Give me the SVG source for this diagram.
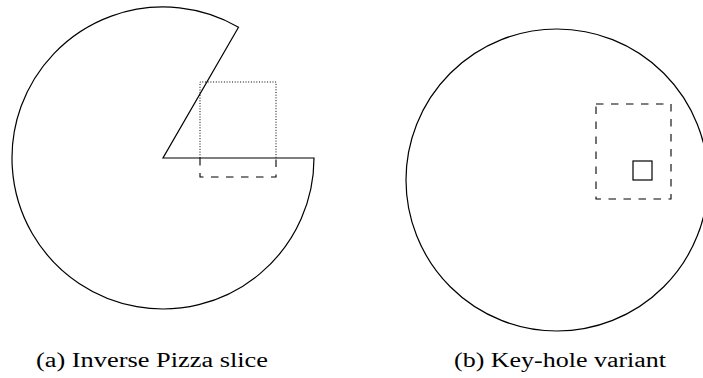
<svg xmlns="http://www.w3.org/2000/svg" width="703" height="378" viewBox="0 0 703 378">
<style>
.solid{fill:none;stroke:#000;stroke-width:1.2}
.dashed{fill:none;stroke:#000;stroke-width:1.1;stroke-dasharray:7.5 7.5}
.dotted{fill:none;stroke:#000;stroke-width:1;stroke-dasharray:1 1.7}
.cap{font-family:"Liberation Serif","DejaVu Serif",serif;font-size:20.5px;fill:#000;text-anchor:middle}
</style>
<rect width="703" height="378" fill="#fff"/>
<g id="pizza">
<path class="solid" d="M163 158 L314 158 A151 151 0 1 1 238.5 27.2 Z"/>
<path class="dotted" d="M200 158 V82 H276 V158"/>
<path class="dashed" d="M200 158 V177 H276 V158"/>
<text class="cap" x="152" y="367" textLength="232" lengthAdjust="spacingAndGlyphs">(a) Inverse Pizza slice</text>
</g>
<g id="keyhole">
<circle class="solid" cx="557" cy="180" r="151"/>
<rect class="dashed" x="596" y="104" width="75" height="95"/>
<rect class="solid" x="633" y="161" width="19" height="19"/>
<text class="cap" x="560" y="367" textLength="212" lengthAdjust="spacingAndGlyphs">(b) Key-hole variant</text>
</g>
</svg>
